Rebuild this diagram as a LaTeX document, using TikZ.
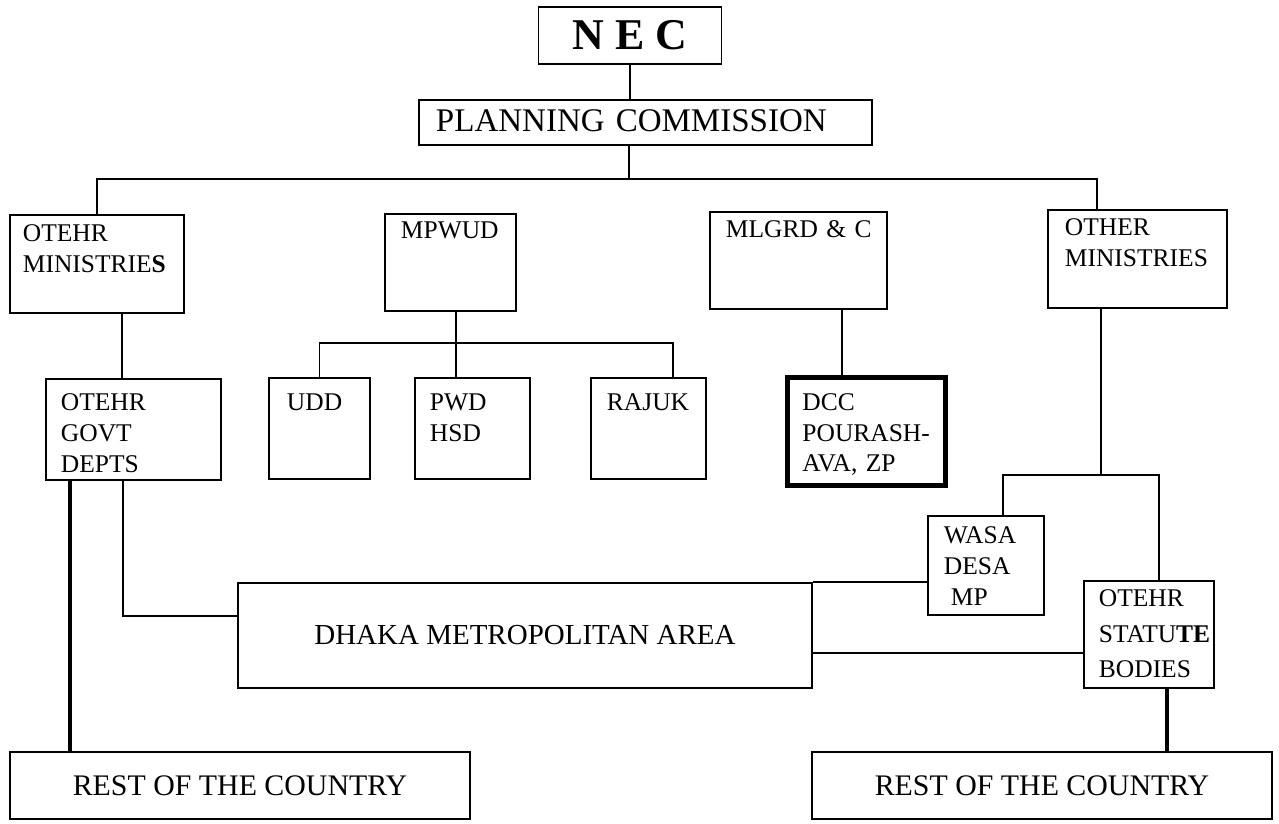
\documentclass[tikz,border=0pt]{standalone}
\usepackage{fontspec}
\setmainfont{Liberation Serif}
\uchyph=0
\newcommand{\orgfont}{\fontsize{14.5}{17.5}\selectfont}
\tikzset{
  org/.style={draw, line width=1.1pt, rectangle, anchor=north west, align=left,
    inner ysep=0pt, font=\orgfont},
  plain/.style={draw, line width=1.1pt, rectangle, align=center, inner sep=0pt},
  link/.style={line width=0.9pt},
  heavy/.style={line width=2pt, line cap=round},
}
\begin{document}
\begin{tikzpicture}[x=0.02cm, y=-0.02cm]
  \useasboundingbox (0,0) rectangle (1279,824);
  % 顶层
  \node[plain, minimum width=3.66cm, minimum height=1.14cm,
    font=\fontsize{25}{30}\selectfont\bfseries] (nec) at (630,35.5) {N E C};
  \node[org, inner xsep=0.34cm, text width=8.38cm, text height=0.64cm, text depth=0.26cm,
    font=\fontsize{18.8}{22}\selectfont] (pc) at (418,99) {PLANNING COMMISSION};
  % 部委
  \node[org, inner xsep=0.26cm, text width=2.96cm, text height=0.54cm, text depth=1.42cm]
    (omin) at (9,214) {OTEHR\\MINISTRIE\textbf{S}};
  \node[org, inner xsep=0.32cm, text width=1.98cm, text height=0.5cm, text depth=1.44cm]
    (mpwud) at (384,213) {MPWUD};
  \node[org, inner xsep=0.32cm, text width=2.9cm, text height=0.52cm, text depth=1.42cm]
    (mlgrd) at (709,211) {MLGRD~\&~C};
  \node[org, inner xsep=0.34cm, text width=2.9cm, text height=0.52cm, text depth=1.44cm]
    (othmin) at (1047,209) {OTHER\\MINISTRIES};
  % 下属机构
  \node[org, inner xsep=0.3cm, text width=2.9cm, text height=0.64cm, text depth=1.38cm]
    (govt) at (45,378) {OTEHR\\GOVT\\DEPTS};
  \node[org, inner xsep=0.36cm, text width=1.3cm, text height=0.66cm, text depth=1.36cm]
    (udd) at (268,377) {UDD};
  \node[org, inner xsep=0.3cm, text width=1.7cm, text height=0.66cm, text depth=1.36cm]
    (pwd) at (414,377) {PWD\\HSD};
  \node[org, inner xsep=0.32cm, text width=1.66cm, text height=0.66cm, text depth=1.36cm]
    (rajuk) at (590,377) {RAJUK};
  \node[org, line width=2.8pt, inner xsep=0.3cm, text width=2.56cm, text height=0.66cm,
    text depth=1.5cm] (dcc) at (785,375) {DCC\\\mbox{POURASH-}\\\mbox{AVA, ZP}};
  \node[org, inner xsep=0.32cm, text width=1.68cm, text height=0.56cm, text depth=1.42cm]
    (wasa) at (927,515) {WASA\\DESA\\\hspace*{4pt}MP};
  \node[org, inner xsep=0.3cm, text width=2cm, text height=0.52cm, text depth=1.62cm,
    font=\fontsize{14.5}{20}\selectfont] (stat) at (1083,580) {OTEHR\\STATU\textbf{TE}\\BODIES};
  % 大框
  \node[plain, minimum width=11.48cm, minimum height=2.1cm, font=\fontsize{16.5}{20}\selectfont]
    (dhaka) at (525,635.5) {DHAKA METROPOLITAN AREA};
  \node[plain, minimum width=9.2cm, minimum height=1.34cm, font=\fontsize{17}{20}\selectfont]
    (rest1) at (240,785.5) {REST OF THE COUNTRY};
  \node[plain, minimum width=9.2cm, minimum height=1.34cm, font=\fontsize{17}{20}\selectfont]
    (rest2) at (1042,785.5) {REST OF THE COUNTRY};
  % 连线
  \coordinate (bus) at (629,179);
  \coordinate (sub) at (456,343);
  \coordinate (fork) at (1101,475);
  \draw[link] (nec) -- (nec |- pc.north);
  \draw[link] (bus |- pc.south) -- (bus);
  \draw[link] (omin.north) |- (bus) -| ([xshift=1cm]othmin.north west);
  \draw[link] ([xshift=1.54cm]govt.north west) -- ([xshift=1.54cm]govt.north west |- omin.south);
  \draw[link] (sub |- mpwud.south) -- (sub) -- (sub |- pwd.north);
  \draw[link] (udd.north) |- (sub) -| ([xshift=1.66cm]rajuk.north west);
  \draw[link] ([xshift=1.14cm]dcc.north west) -- ([xshift=1.14cm]dcc.north west |- mlgrd.south);
  \draw[link] (fork |- othmin.south) -- (fork);
  \draw[link] ([xshift=1.52cm]wasa.north west) |- (fork) -| ([xshift=1.52cm]stat.north west);
  \draw[link] ([xshift=1.56cm]govt.south west) |- ([yshift=-0.68cm]dhaka.north west);
  \draw[link] (dhaka.north east) -- (dhaka.north east -| wasa.west);
  \draw[link] ([yshift=-1.46cm]stat.north west) -- ([yshift=-1.46cm]stat.north west -| dhaka.east);
  \draw[heavy] ([xshift=0.5cm]govt.south west) -- ([xshift=0.5cm]govt.south west |- rest1.north);
  \draw[heavy] ([xshift=1.68cm]stat.south west) -- ([xshift=1.68cm]stat.south west |- rest2.north);
\end{tikzpicture}
\end{document}
